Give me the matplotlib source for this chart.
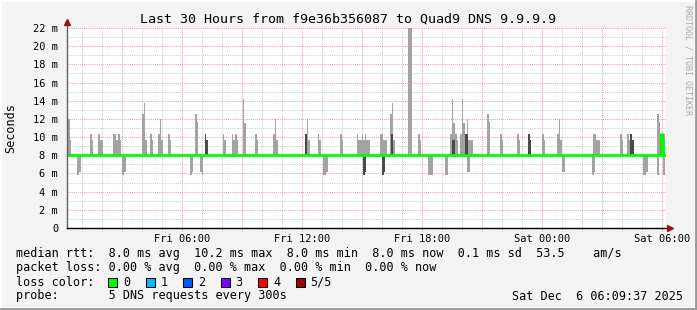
import matplotlib
matplotlib.use('Agg')
import matplotlib.pyplot as plt
from matplotlib.patches import Rectangle
from matplotlib.lines import Line2D

# time axis: hours since Fri 00:00
x_ticks = [6, 12, 18, 24, 30]
x_labels = ['Fri 06:00', 'Fri 12:00', 'Fri 18:00', 'Sat 00:00', 'Sat 06:00']
y_ticks = [0, 2, 4, 6, 8, 10, 12, 14, 16, 18, 20, 22]
y_labels = ['0'] + ['%d m' % v for v in y_ticks[1:]]

# smoke above the median (ms)
light_up_t = [0.20, 0.28, 0.37, 1.39, 1.47, 1.79, 1.87, 1.95, 2.54, 2.62, 2.70, 2.78, 2.86,
              3.99, 4.07, 4.15, 4.39, 4.47, 4.79, 4.87, 4.95, 5.29, 5.37, 6.64, 6.72,
              8.02, 8.10, 8.47, 8.55, 8.63, 8.71, 9.02, 9.10, 9.64, 9.72, 10.54, 10.62, 10.70,
              12.22, 12.30, 12.77, 12.85, 13.89, 13.97,
              14.72, 14.80, 14.88, 14.96, 15.04, 15.12, 15.20, 15.28,
              15.89, 15.97, 16.05, 16.13, 16.39, 16.47, 16.55, 17.30, 17.38, 17.79, 17.87,
              19.39, 19.47, 19.55, 19.63, 19.71, 19.89, 19.97, 20.05, 20.21, 20.29, 20.37, 20.45,
              21.24, 21.32, 21.89, 21.97, 22.74, 22.82, 23.99, 24.07, 24.74, 24.82, 24.90,
              26.54, 26.62, 26.70, 26.78, 27.89, 27.97, 28.24, 28.32, 29.74, 29.82, 30.06]
light_up_v = [10.3, 12.0, 9.7, 10.3, 9.7, 10.3, 9.7, 9.7, 10.3, 10.3, 9.7, 10.3, 9.7,
              12.5, 13.8, 9.7, 10.3, 9.7, 10.3, 12.0, 9.7, 10.3, 9.7, 12.5, 11.7,
              10.3, 9.7, 10.3, 9.7, 10.3, 9.7, 14.2, 11.5, 10.3, 9.7, 10.3, 12.0, 9.7,
              12.0, 9.7, 10.3, 9.7, 10.3, 9.7,
              10.3, 9.7, 9.7, 10.3, 9.7, 10.3, 9.7, 9.7,
              10.3, 10.3, 9.7, 9.7, 12.5, 13.8, 9.7, 23.0, 23.0, 10.3, 9.7,
              10.3, 14.2, 11.5, 10.3, 9.7, 10.3, 14.2, 11.5, 12.0, 9.7, 9.7, 9.7,
              12.5, 11.7, 10.3, 9.7, 10.3, 9.7, 10.3, 9.7, 10.3, 12.0, 9.7,
              10.3, 10.3, 9.7, 9.7, 10.3, 9.7, 10.3, 9.7, 12.5, 11.7, 10.3]
dark_up_t = [7.12, 7.20, 12.14, 16.43, 19.47, 19.55, 20.13, 20.21, 23.29, 23.37,
             28.40, 28.48, 29.90, 29.98]
dark_up_v = [10.3, 9.7, 10.3, 10.3, 9.7, 9.7, 10.3, 10.3, 10.3, 9.7,
             10.3, 9.7, 10.3, 10.3]

# smoke below the median (ms)
light_dn_t = [0.75, 0.83, 3.00, 3.08, 6.39, 6.47, 6.89, 6.97, 13.02, 13.10, 13.18,
              18.29, 18.37, 18.45, 19.12, 19.20, 20.24, 20.32, 24.97, 25.05,
              26.49, 26.57, 29.02, 29.10, 29.18, 29.74, 30.06]
light_dn_v = [5.8, 6.2, 5.8, 6.2, 5.8, 6.2, 6.2, 5.8, 5.8, 5.8, 6.2,
              5.8, 5.8, 5.8, 5.8, 5.8, 6.2, 6.2, 6.2, 6.2,
              5.8, 6.2, 5.8, 5.8, 6.2, 5.8, 5.8]
dark_dn_t = [15.04, 15.12, 15.99, 16.07]
dark_dn_v = [5.8, 6.2, 5.8, 6.2]

median = 8.0
med_t = [0.0, 29.93, 29.99, 30.04, 30.3]
med_v = [8.0, 10.3, 9.7, 8.0, 8.0]

legend_lines = [
    'median rtt:  8.0 ms avg  10.2 ms max  8.0 ms min  8.0 ms now  0.1 ms sd  53.5    am/s',
    'packet loss: 0.00 % avg  0.00 % max  0.00 % min  0.00 % now',
    'loss color:',
    'probe:       5 DNS requests every 300s',
]
loss_names = ['0', '1', '2', '3', '4', '5/5']
loss_colors = ['#00ff00', '#00b8ff', '#0059ff', '#7e00ff', '#ff0000', '#a00000']

W, H = 697, 310
mono = 'DejaVu Sans Mono'


def fx(x):
    return x / W


def fy(y):
    return 1 - y / H


fig = plt.figure(figsize=(W / 100, H / 100), dpi=100, facecolor='#f3f3f3')
ax = fig.add_axes([fx(66.5), fy(228), (665.5 - 66.5) / W, 200 / H])
ax.set_facecolor('white')
ax.set_xlim(0.21, 30.16)
ax.set_ylim(0, 22)

step = 1 / 12
ax.bar(light_up_t, [v - median for v in light_up_v], bottom=median, width=step,
       align='edge', color='#a3a3a3', linewidth=0, zorder=3)
ax.bar(light_dn_t, [median - v for v in light_dn_v], bottom=light_dn_v, width=step,
       align='edge', color='#a3a3a3', linewidth=0, zorder=3)
ax.bar(dark_up_t, [v - median for v in dark_up_v], bottom=median, width=step,
       align='edge', color='#4a4a4a', linewidth=0, zorder=4)
ax.bar(dark_dn_t, [median - v for v in dark_dn_v], bottom=dark_dn_v, width=step,
       align='edge', color='#4a4a4a', linewidth=0, zorder=4)
ax.plot(med_t, med_v, drawstyle='steps-post', color='#00ff00', lw=2, zorder=5)

# grid
ax.set_xticks(range(3, 31, 3))
ax.set_xticklabels([x_labels[x_ticks.index(h)] if h in x_ticks else '' for h in range(3, 31, 3)])
ax.set_xticks(range(1, 31), minor=True)
ax.set_yticks(y_ticks)
ax.set_yticklabels(y_labels)
ax.set_yticks(range(1, 23), minor=True)
dots = (0, (1, 1))
ax.grid(True, which='minor', color='#cfcfcf', lw=0.75, ls=dots, zorder=1)
ax.grid(True, which='major', color='#f2a0a0', lw=0.75, ls=dots, zorder=2)
ax.tick_params(axis='x', which='major', length=2, width=0.75, color='#f2a0a0', pad=2,
               labelsize=7.5)
ax.tick_params(axis='x', which='minor', length=2, width=0.75, color='#cfcfcf')
ax.tick_params(axis='y', which='both', length=0, pad=6, labelsize=7.5)
for lab in ax.get_xticklabels() + ax.get_yticklabels():
    lab.set_fontfamily(mono)
for s in ax.spines.values():
    s.set_visible(False)

# axes lines with arrows
ax.add_line(Line2D([0, 0], [0, 1.03], transform=ax.transAxes, color='#606060',
                   lw=1, clip_on=False, zorder=6))
ax.add_line(Line2D([0, 1.006], [0, 0], transform=ax.transAxes, color='black',
                   lw=1, clip_on=False, zorder=6))
ax.plot([0], [1.03], marker='^', ms=5, color='#8b1a1a', transform=ax.transAxes,
        clip_on=False, zorder=7)
ax.plot([1.008], [0], marker='>', ms=5, color='#8b1a1a', transform=ax.transAxes,
        clip_on=False, zorder=7)

fig.text(fx(348), fy(19), 'Last 30 Hours from f9e36b356087 to Quad9 DNS 9.9.9.9',
         family=mono, fontsize=9.6, ha='center', va='center')
fig.text(fx(11), fy(128), 'Seconds', family=mono, fontsize=8.5, rotation=90,
         ha='center', va='center')
fig.text(fx(688), fy(5), 'RRDTOOL / TOBI OETIKER', family=mono, fontsize=6,
         rotation=270, ha='center', va='top', color='#aaaaaa')

for i, line in enumerate(legend_lines):
    fig.text(fx(16), fy(254 + 14 * i), line, family=mono, fontsize=8.5,
             ha='left', va='center')
fig.text(fx(683), fy(296), 'Sat Dec  6 06:09:37 2025', family=mono, fontsize=8.5,
         ha='right', va='center')

for i, (name, col) in enumerate(zip(loss_names, loss_colors)):
    x0 = 108 + 37.5 * i
    fig.add_artist(Rectangle((fx(x0), fy(287)), 9 / W, 9 / H, transform=fig.transFigure,
                             facecolor=col, edgecolor='black', lw=0.75))
    fig.text(fx(x0 + 15), fy(282), name, family=mono, fontsize=8.5, ha='left', va='center')

# 3d frame
fig.add_artist(Line2D([fx(1), fx(1), fx(695.5)], [fy(308.5), fy(1), fy(1)],
                      transform=fig.transFigure, color='white', lw=1.5))
fig.add_artist(Line2D([fx(1), fx(695.5), fx(695.5)], [fy(308.5), fy(308.5), fy(1)],
                      transform=fig.transFigure, color='#999999', lw=2))

fig.savefig('out.png', dpi=100, facecolor=fig.get_facecolor())
